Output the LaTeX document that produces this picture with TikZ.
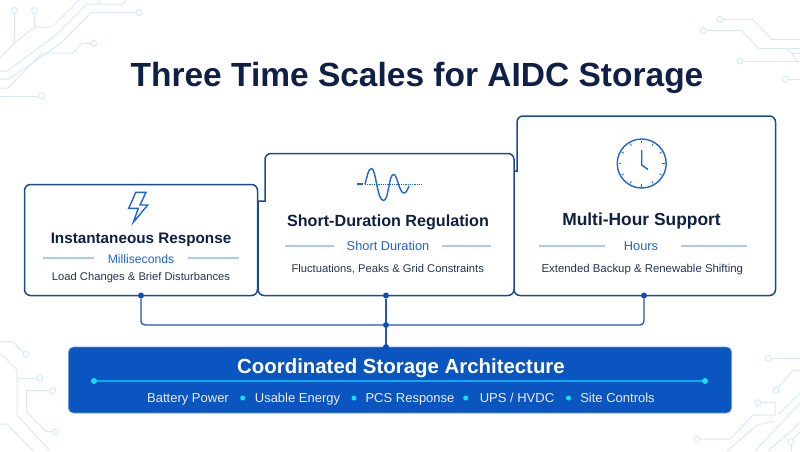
\documentclass[tikz,border=0pt]{standalone}
\usepackage{xcolor}
\usepackage{fontspec}
\usepackage{tikz}
\setmainfont{Liberation Sans}
\definecolor{inkblue}{HTML}{0F1F45}
\definecolor{framenavy}{HTML}{1B4A94}
\definecolor{wireblue}{HTML}{1F55BE}
\definecolor{dotblue}{HTML}{0B4DB8}
\definecolor{accentblue}{HTML}{1E62DC}
\definecolor{ruleblue}{HTML}{A9CBFA}
\definecolor{barblue}{HTML}{0B55C0}
\definecolor{glowcyan}{HTML}{12E0F8}
\definecolor{linecyan}{HTML}{0FA8EA}
\definecolor{traceblue}{HTML}{D9E7FB}
\definecolor{textgrey}{HTML}{27344F}

\begin{document}
\begin{tikzpicture}[
x=1pt, y=-1pt,
% Style for the stepped cards
card style/.style={
draw=framenavy,
line width=1.5pt,
fill=white
},
% Styles for the card texts
head style/.style={
font=\fontsize{#1}{18}\selectfont\bfseries,
text=inkblue,
anchor=base,
inner sep=0pt
},
span style/.style={
font=\fontsize{#1}{14}\selectfont,
text=accentblue,
anchor=base,
inner sep=0pt
},
desc style/.style={
font=\fontsize{#1}{13}\selectfont,
text=textgrey,
anchor=base,
inner sep=0pt
},
item style/.style={
font=\fontsize{13}{14}\selectfont,
text=white!93!blue,
anchor=base,
inner sep=0pt
},
% Style for the small markers
wire dot/.style={
circle,
fill=dotblue,
inner sep=0pt,
minimum size=6pt
},
glow dot/.style={
circle,
fill=glowcyan,
inner sep=0pt,
minimum size=#1
},
pad/.style={
circle,
draw=traceblue,
line width=1pt,
fill=white,
inner sep=0pt,
minimum size=6pt
},
wire/.style={draw=wireblue, line width=1.4pt, rounded corners=4pt},
rule/.style={draw=ruleblue, line width=1.1pt},
trace/.style={draw=traceblue, line width=1pt},
icon/.style={draw=accentblue, line width=1.4pt}
]

\useasboundingbox (0,0) rectangle (800,451);

% Circuit traces, top left
\node[pad] (p1) at (14.5,10.5) {};
\node[pad] (p2) at (34.5,10.5) {};
\node[pad] (p3) at (93.7,43.3) {};
\node[pad] (p4) at (41.3,96) {};
\node[pad] (p18) at (139,12.7) {};
\draw[trace] (p1) -- (14.5,43) -- (0,58);
\draw[trace] (p2) -- (34.5,27) -- (52,27) -- (79,0);
\draw[trace] (34.5,27) -- (14.5,43);
\draw[trace] (0,71) -- (7,71) -- (55,36) -- (87,4) -- (123,4) -- (126,0);
\draw[trace] (0,79) -- (9,79) -- (60,44) -- (91,12.7) -- (p18);
\draw[trace] (0,88) -- (8,88) -- (42,53) -- (73,53) -- (82,43.3) -- (p3);
\draw[trace] (0,96) -- (p4);
\draw[trace] (97,4) -- (101,0);

% Circuit traces, top right
\node[pad] (p5) at (720,19.3) {};
\node[pad] (p6) at (703.3,30.7) {};
\node[pad] (p7) at (740,61) {};
\node[pad] (p8) at (785.3,79.3) {};
\draw[trace] (p5) -- (752.7,19.3) -- (771.7,39.3) -- (800,39.3);
\draw[trace] (p6) -- (741.7,30.7) -- (759.3,48.7) -- (800,48.7);
\draw[trace] (p7) -- (800,61);
\draw[trace] (786,48.7) -- (791.7,53.3) -- (800,53.3);
\draw[trace] (791.7,53.3) -- (797,61);
\draw[trace] (p8) -- (800,79.3);

% Circuit traces, bottom left
\node[pad] (p9) at (26,354.3) {};
\node[pad] (p10) at (40,378.3) {};
\node[pad] (p11) at (52.7,390.7) {};
\node[pad] (p12) at (55.7,431.7) {};
\draw[trace] (0,341.7) -- (13,341.7) -- (23,352) -- (p9);
\draw[trace] (0,353) -- (17,370) -- (17,415) -- (50,451);
\draw[trace] (17,378.3) -- (p10);
\draw[trace] (p11) -- (26.7,390.7) -- (26.7,411.7) -- (46,431.7) -- (p12);
\draw[trace] (0,424) -- (7,424) -- (33,451);

% Circuit traces, bottom right
\node[pad] (p13) at (768.3,358.3) {};
\node[pad] (p14) at (776,390) {};
\node[pad] (p15) at (758,402.7) {};
\node[pad] (p16) at (696.7,439) {};
\node[pad] (p17) at (791,441.7) {};
\draw[trace] (p13) -- (800,358.3);
\draw[trace] (p14) -- (793.3,370) -- (800,370);
\draw[trace] (p15) -- (775,402.7) -- (775,415) -- (753.3,415) -- (730,439) -- (p16);
\draw[trace] (778,415) -- (800,393);
\draw[trace] (775,421) -- (757,425) -- (727,451);
\draw[trace] (800,403) -- (755,451);
\draw[trace] (800,423) -- (768,451);
\draw[trace] (p17) -- (800,432);
\draw[trace] (p17) -- (791,451);

% Title
\node[font=\fontsize{33.5}{40}\selectfont\bfseries, text=inkblue, anchor=base, inner sep=0pt] (title) at (417,86.5) {Three Time Scales for AIDC Storage};

% Cards, right one first so that the left ones sit on top
\draw[card style] (517,171) [rounded corners=6pt] -- (517,116) -- (775.5,116) -- (775.5,295.5) -- (514,295.5) [sharp corners] -- (514,171) -- cycle;
\draw[card style] (265,201) [rounded corners=6pt] -- (265,153.5) -- (514,153.5) -- (514,295.5) -- (258,295.5) [sharp corners] -- (258,201) -- cycle;
\node[card style, rounded corners=6pt, minimum width=233pt, minimum height=111pt, inner sep=0pt] (card one) at (141,240) {};

% Connectors between the cards and the bar
\node[wire dot] (tap one) at (141,295.5) {};
\node[wire dot] (tap two) at (386,295.5) {};
\node[wire dot] (tap three) at (644,295.5) {};
\node[wire dot] (hub) at (386,325) {};
\node[draw=barblue!60!white, line width=0.8pt, fill=barblue, rounded corners=5pt, minimum width=663pt, minimum height=66pt, inner sep=0pt] (bar) at (400,380) {};
\node[wire dot] (bar tap) at (386,347) {};
\draw[wire] (tap one) |- (hub);
\draw[wire] (tap three) |- (hub);
\draw[wire] (tap two) -- (hub);
\draw[wire] (hub) -- (bar tap);

% Lightning icon
\draw[icon, line join=miter] (135.7,192.3) -- (146,192.3) -- (140,205) -- (147.7,205) -- (133.3,222.3) -- (138.3,208.3) -- (128.7,208.3) -- cycle;

% Wave icon
\draw[icon] (357,184) -- (363,184);
\draw[icon] (365,184) .. controls (367,178) and (368,168.5) .. (371.5,168.5) .. controls (376,168.5) and (377,200.5) .. (383.5,200.5) .. controls (389,200.5) and (388.5,174.5) .. (393.5,174.5) .. controls (397.5,174.5) and (399,193) .. (404,193) .. controls (406,193) and (407.5,190) .. (409,186);
\draw[draw=accentblue, line width=0.8pt, densely dotted] (365,184) -- (421,184);

% Clock icon
\node[circle, icon, minimum size=49pt, inner sep=0pt] (clock) at (641.7,163.5) {};
\foreach \a in {0,30,...,330} {
\draw[draw=accentblue, line width=0.7pt] (clock.center) ++(\a:20.5pt) -- ++(\a:2.5pt);
}
\draw[icon] (641.7,150) -- (641.7,165) -- (648,169.5);

% Card one texts
\node[head style=15.25] (head one) at (141,243) {Instantaneous Response};
\node[span style=12.2] (span one) at (141,263) {Milliseconds};
\node[desc style=11.2] (desc one) at (141,280.5) {Load Changes \& Brief Disturbances};
\draw[rule] (43,258) -- (94,258);
\draw[rule] (188,258) -- (239,258);

% Card two texts
\node[head style=16.15] (head two) at (388,226) {Short-Duration Regulation};
\node[span style=12.8] (span two) at (388,250.7) {Short Duration};
\node[desc style=11.2] (desc two) at (387.7,272.7) {Fluctuations, Peaks \& Grid Constraints};
\draw[rule] (285,246) -- (334,246);
\draw[rule] (442,246) -- (491,246);

% Card three texts
\node[head style=17.4] (head three) at (641.5,225) {Multi-Hour Support};
\node[span style=12.8] (span three) at (641,250.7) {Hours};
\node[desc style=11.4] (desc three) at (642.3,272.7) {Extended Backup \& Renewable Shifting};
\draw[rule] (538.5,246) -- (604.5,246);
\draw[rule] (681,246) -- (746.5,246);

% Bar contents
\node[font=\fontsize{20.4}{24}\selectfont\bfseries, text=white, anchor=base, inner sep=0pt] (bar head) at (401,373.3) {Coordinated Storage Architecture};
\node[glow dot=6pt] (glow left) at (94,381) {};
\node[glow dot=6pt] (glow right) at (705,381) {};
\draw[draw=linecyan, line width=1.1pt] (glow left) -- (glow right);

\node[item style] (item one) at (188,402.7) {Battery Power};
\node[glow dot=5pt] (sep one) at (242.7,398) {};
\node[item style] (item two) at (297.5,402.7) {Usable Energy};
\node[glow dot=5pt] (sep two) at (354,398) {};
\node[item style] (item three) at (410,402.7) {PCS Response};
\node[glow dot=5pt] (sep three) at (465.7,398) {};
\node[item style] (item four) at (517,402.7) {UPS / HVDC};
\node[glow dot=5pt] (sep four) at (568.5,398) {};
\node[item style] (item five) at (617.5,402.7) {Site Controls};

\end{tikzpicture}
\end{document}
